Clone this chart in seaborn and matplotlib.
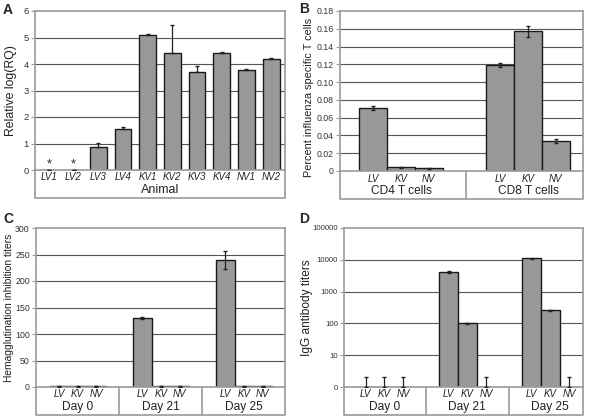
import numpy as np
import pandas as pd
import matplotlib
matplotlib.use("Agg")
import matplotlib.pyplot as plt
import seaborn as sns
from matplotlib.ticker import FixedLocator, FixedFormatter, NullLocator

sns.set_theme(style="white")
plt.rcParams["font.family"] = ["Liberation Sans", "DejaVu Sans"]

# ---------------------------------------------------------------------------
# data
# ---------------------------------------------------------------------------
animals = ["LV1", "LV2", "LV3", "LV4", "KV1", "KV2", "KV3", "KV4", "NV1", "NV2"]
rq_values = [np.nan, np.nan, 0.88, 1.55, 5.10, 4.42, 3.68, 4.42, 3.78, 4.17]
rq_errors = [0, 0, 0.13, 0.08, 0.03, 1.05, 0.25, 0.03, 0.03, 0.04]

vaccines = ["LV", "KV", "NV"]
cell_groups = ["CD4 T cells", "CD8 T cells"]
tcell_values = [0.071, 0.004, 0.003, 0.119, 0.157, 0.034]
tcell_errors = [0.002, 0.0003, 0.0004, 0.002, 0.006, 0.002]

days = ["Day 0", "Day 21", "Day 25"]
hi_values = [1, 1, 1, 130, 1, 1, 240, 1, 1]
hi_errors = [0.5, 0.5, 0.5, 2, 0.5, 0.5, 17, 0.5, 0.5]

igg_values = [1, 1, 1, 4100, 100, 1, 11300, 257, 1]
igg_errors = [1, 1, 1, 200, 2, 1, 500, 15, 1]

W, H = 592, 417
BAR = "#999999"
FRAME = "#9a9a9a"
GRID = "#555555"
TXT = "#222222"

fig = plt.figure(figsize=(W / 100, H / 100), dpi=100)


def px_axes(l, r, t, b):
    return fig.add_axes([l / W, 1 - b / H, (r - l) / W, (b - t) / H])


def style_axes(ax, box_bottom, yticks, ylabels, ylim, tick_size=6.3):
    ax.set_ylim(*ylim)
    ax.yaxis.set_major_locator(FixedLocator(yticks))
    ax.yaxis.set_major_formatter(FixedFormatter(ylabels))
    ax.yaxis.set_minor_locator(NullLocator())
    ax.grid(False)
    for t in yticks[1:-1]:
        ax.axhline(t, color=GRID, lw=0.8, zorder=0)
    ax.tick_params(axis="y", left=True, length=3, width=0.8, color=FRAME, pad=1.5,
                   labelsize=tick_size, labelcolor="#333333")
    ax.tick_params(axis="x", length=0, labelbottom=False)
    ax.set_xlabel("")
    for s in ax.spines.values():
        s.set_color(FRAME)
        s.set_linewidth(1.2)
    # category box below the plot area
    kw = dict(transform=ax.transAxes, color=FRAME, lw=1.2, clip_on=False)
    ax.plot([0, 0, 1, 1], [0, box_bottom, box_bottom, 0], **kw)


def dividers(ax, xs, box_bottom):
    tr = matplotlib.transforms.blended_transform_factory(ax.transData, ax.transAxes)
    for x in xs:
        ax.plot([x, x], [0, box_bottom], transform=tr, color=FRAME, lw=1.2, clip_on=False)


def bar_labels(ax, xs, labels, y_axes, size, style="normal"):
    tr = matplotlib.transforms.blended_transform_factory(ax.transData, ax.transAxes)
    for x, lab in zip(xs, labels):
        ax.text(x, y_axes, lab, transform=tr, ha="center", va="center",
                fontsize=size, style=style, color=TXT)


# ---------------------------------------------------------------------------
# A: relative log(RQ)
# ---------------------------------------------------------------------------
axA = px_axes(35, 285, 11, 170)
dfA = pd.DataFrame({"animal": animals, "rq": rq_values})
sns.barplot(data=dfA, x="animal", y="rq", order=animals, color=BAR, saturation=1,
            width=0.68, edgecolor="#1a1a1a", linewidth=1, errorbar=None, ax=axA, zorder=2)
xa = np.arange(len(animals))
axA.errorbar(xa, np.nan_to_num(rq_values), yerr=[np.zeros(len(animals)), rq_errors],
             fmt="none", ecolor=TXT, elinewidth=0.9, capsize=1.5, zorder=3)
for i, v in enumerate(rq_values):
    if np.isnan(v):
        axA.text(i, 0.2, "*", ha="center", va="center", fontsize=9, color=TXT)
axA.set_xlim(-0.56, 9.56)
boxA = -28 / 159
style_axes(axA, boxA, list(range(7)), [str(i) for i in range(7)], (0, 6), 6.8)
bar_labels(axA, xa, animals, -0.047, 7, "italic")
axA.text(0.5, -0.127, "Animal", transform=axA.transAxes, ha="center", va="center",
         fontsize=9, color=TXT)
axA.set_ylabel("Relative log(RQ)", fontsize=8.8, color=TXT)
axA.yaxis.set_label_coords(-0.07, 0.5)

# ---------------------------------------------------------------------------
# B: percent influenza specific T cells
# ---------------------------------------------------------------------------
axB = px_axes(340, 583, 11, 171)
gapB = 4.58
xb = [g * gapB + b for g in range(len(cell_groups)) for b in range(len(vaccines))]
dfB = pd.DataFrame({"x": xb, "v": tcell_values})
sns.barplot(data=dfB, x="x", y="v", native_scale=True, color=BAR, saturation=1,
            width=1, edgecolor="#1a1a1a", linewidth=1, errorbar=None, ax=axB, zorder=2)
axB.errorbar(xb, tcell_values, yerr=tcell_errors, fmt="none", ecolor=TXT,
             elinewidth=0.9, capsize=1.5, zorder=3)
axB.set_xlim(-1.2, 7.56)
boxB = -28 / 160
yB = [0, 0.02, 0.04, 0.06, 0.08, 0.10, 0.12, 0.14, 0.16, 0.18]
style_axes(axB, boxB, yB, ["0"] + [f"{t:.2f}" for t in yB[1:]], (0, 0.18))
dividers(axB, [2.5 + (gapB - 3) / 2 + 0.06], boxB)
bar_labels(axB, xb, vaccines * 2, -0.05, 7, "italic")
bar_labels(axB, [1, 1 + gapB], cell_groups, -0.125, 8.6)
axB.set_ylabel("Percent influenza specific T cells", fontsize=7.8, color=TXT)
axB.yaxis.set_label_coords(-0.105, 0.46)

# ---------------------------------------------------------------------------
# C: hemagglutination inhibition titers
# ---------------------------------------------------------------------------
axC = px_axes(36, 285, 228, 387)
gapC = 4.46
xc = [g * gapC + b for g in range(len(days)) for b in range(len(vaccines))]
dfC = pd.DataFrame({"x": xc, "v": hi_values})
sns.barplot(data=dfC, x="x", y="v", native_scale=True, color=BAR, saturation=1,
            width=1, edgecolor="#1a1a1a", linewidth=1, errorbar=None, ax=axC, zorder=2)
axC.errorbar(xc, hi_values, yerr=hi_errors, fmt="none", ecolor=TXT,
             elinewidth=0.9, capsize=1.5, zorder=3)
axC.set_xlim(-1.23, 12.11)
boxC = -28 / 159
yC = [0, 50, 100, 150, 200, 250, 300]
style_axes(axC, boxC, yC, [str(t) for t in yC], (0, 300))
dividers(axC, [2.5 + (gapC - 3) / 2 + g * gapC for g in range(2)], boxC)
bar_labels(axC, xc, vaccines * 3, -0.045, 7, "italic")
bar_labels(axC, [1 + g * gapC for g in range(3)], days, -0.126, 8.6)
axC.set_ylabel("Hemagglutination inhibition titers", fontsize=7.4, color=TXT)
axC.yaxis.set_label_coords(-0.088, 0.5)

# ---------------------------------------------------------------------------
# D: IgG antibody titers (log scale, floor labelled 0)
# ---------------------------------------------------------------------------
axD = px_axes(344, 583, 228, 387)
axD.set_yscale("log")
gapD = 4.43
xd = [g * gapD + b for g in range(len(days)) for b in range(len(vaccines))]
dfD = pd.DataFrame({"x": xd, "v": igg_values})
sns.barplot(data=dfD, x="x", y="v", native_scale=True, color=BAR, saturation=1,
            width=1, edgecolor="#1a1a1a", linewidth=1, errorbar=None, ax=axD, zorder=2)
low = [0 if v <= 1 else e for v, e in zip(igg_values, igg_errors)]
axD.errorbar(xd, igg_values, yerr=[low, igg_errors], fmt="none", ecolor=TXT,
             elinewidth=0.9, capsize=1.5, zorder=3)
axD.set_xlim(-1.16, 11.61)
boxD = -28 / 159
yD = [1, 10, 100, 1000, 10000, 100000]
style_axes(axD, boxD, yD, ["0", "10", "100", "1000", "10000", "100000"], (1, 100000), 5.6)
dividers(axD, [2.5 + (gapD - 3) / 2 + g * gapD for g in range(2)], boxD)
bar_labels(axD, xd, vaccines * 3, -0.045, 7, "italic")
bar_labels(axD, [1 + g * gapD for g in range(3)], days, -0.126, 8.6)
axD.set_ylabel("IgG antibody titers", fontsize=8.6, color=TXT)
axD.yaxis.set_label_coords(-0.128, 0.5)

# panel letters
for lab, x, y in [("A", 3, 3), ("B", 299, 2), ("C", 3, 212), ("D", 299, 212)]:
    fig.text(x / W, 1 - y / H, lab, fontsize=10, fontweight="bold", va="top", ha="left")

fig.savefig("out.png", dpi=100, facecolor="white")
